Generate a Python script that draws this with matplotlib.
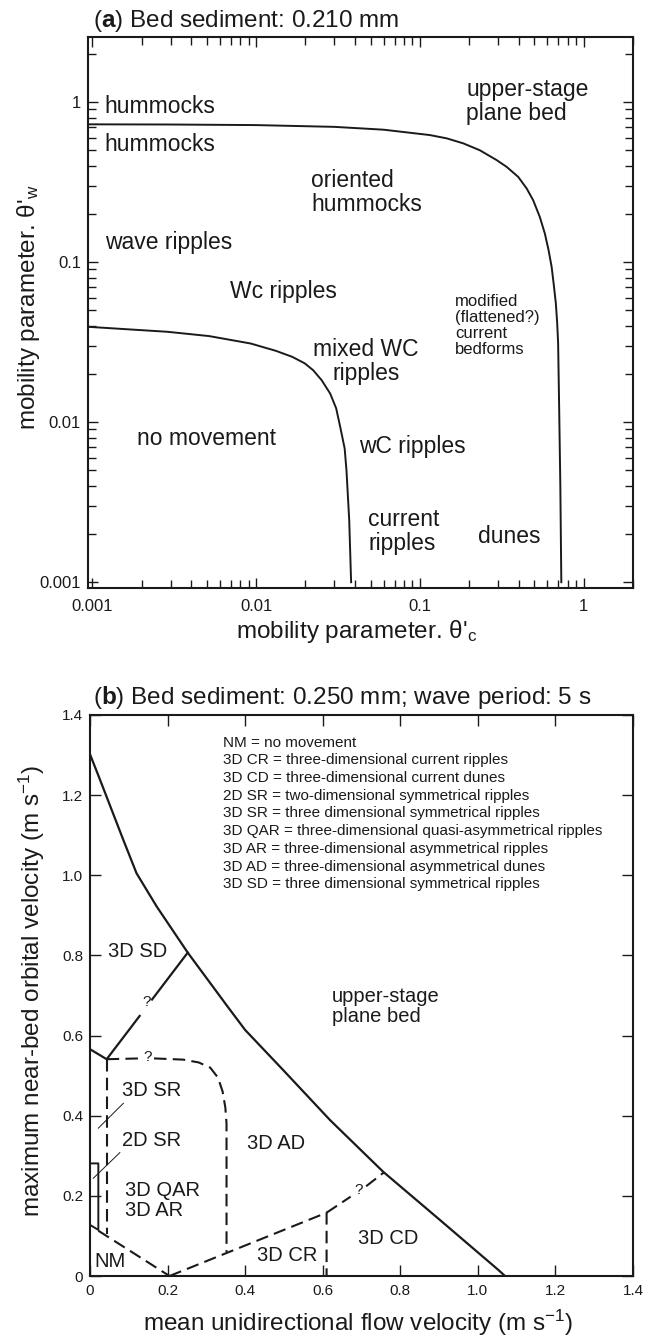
import matplotlib
matplotlib.use("Agg")
import matplotlib.pyplot as plt
from matplotlib.ticker import FixedLocator, FuncFormatter, LogLocator, NullFormatter

# ---- panel (a): log-log bedform diagram, boundaries
theta_c_upper = [0.00095, 0.003, 0.01, 0.03, 0.06, 0.115, 0.146, 0.184, 0.232,
                 0.294, 0.338, 0.398, 0.448, 0.491, 0.539, 0.579, 0.61, 0.637,
                 0.657, 0.676, 0.689, 0.698, 0.708, 0.72, 0.73]
theta_w_upper = [0.726, 0.724, 0.718, 0.70, 0.672, 0.622, 0.593, 0.552, 0.50,
                 0.434, 0.394, 0.341, 0.289, 0.244, 0.192, 0.151, 0.119, 0.0935,
                 0.0718, 0.0552, 0.0414, 0.031, 0.0125, 0.004, 0.001]

theta_c_lower = [0.00095, 0.00287, 0.00516, 0.00926, 0.0132, 0.0166, 0.0198,
                 0.0223, 0.0251, 0.0283, 0.0308, 0.0326, 0.0347, 0.0356, 0.037,
                 0.038]
theta_w_lower = [0.0394, 0.0367, 0.0345, 0.031, 0.0279, 0.0256, 0.0233,
                 0.0211, 0.0183, 0.0151, 0.0122, 0.00934, 0.00685, 0.005,
                 0.00244, 0.001]

ticks_a = [0.001, 0.01, 0.1, 1]

# ---- panel (b): linear velocity diagram
plane_u = [0, 0.026, 0.086, 0.120, 0.172, 0.252, 0.355, 0.40, 0.498, 0.619,
           0.756, 0.902, 1.053, 1.07]
plane_v = [1.302, 1.238, 1.088, 1.005, 0.922, 0.807, 0.672, 0.614, 0.514,
           0.389, 0.260, 0.140, 0.015, 0.0]

sd_low_u = [0, 0.043, 0.128]
sd_low_v = [0.566, 0.541, 0.649]
sd_high_u = [0.160, 0.252]
sd_high_v = [0.690, 0.807]

bracket_u = [0, 0.0215, 0.0215, 0]
bracket_v = [0.281, 0.281, 0.115, 0.1275]

sr_left_u = [0.043, 0.043]
sr_left_v = [0.541, 0.105]
sr_top1_u = [0.043, 0.13]
sr_top1_v = [0.541, 0.543]
sr_top2_u = [0.165, 0.24, 0.28, 0.31, 0.33, 0.342, 0.349, 0.352, 0.352]
sr_top2_v = [0.543, 0.540, 0.533, 0.52, 0.495, 0.46, 0.42, 0.38, 0.06]
nm_u = [0.0215, 0.205]
nm_v = [0.113, 0.0]
cr_u = [0.205, 0.61, 0.61]
cr_v = [0.0, 0.158, 0.0]
cd1_u = [0.61, 0.672]
cd1_v = [0.158, 0.198]
cd2_u = [0.712, 0.757]
cd2_v = [0.224, 0.258]

lead_sr_u = [0.086, 0.0215]
lead_sr_v = [0.431, 0.369]
lead_2d_u = [0.077, 0.0086]
lead_2d_v = [0.308, 0.244]

ticks_b = [0, 0.2, 0.4, 0.6, 0.8, 1.0, 1.2, 1.4]

legend_lines = [
    "NM = no movement",
    "3D CR = three-dimensional current ripples",
    "3D CD = three-dimensional current dunes",
    "2D SR = two-dimensional symmetrical ripples",
    "3D SR = three dimensional symmetrical ripples",
    "3D QAR = three-dimensional quasi-asymmetrical ripples",
    "3D AR = three-dimensional asymmetrical ripples",
    "3D AD = three-dimensional asymmetrical dunes",
    "3D SD = three dimensional symmetrical ripples",
]

plt.rcParams["font.family"] = ["Liberation Sans", "DejaVu Sans"]
plt.rcParams["mathtext.fontset"] = "custom"
plt.rcParams["mathtext.rm"] = "Liberation Sans"
plt.rcParams["mathtext.bf"] = "Liberation Sans:bold"
plt.rcParams["mathtext.it"] = "Liberation Sans:italic"

W, H = 655, 1338
fig = plt.figure(figsize=(W / 100, H / 100), dpi=100)


def fx(px):
    return px / W


def fy(py):
    return 1 - py / H


ink = "#1a1a1a"

# ================= panel (a)
ax1 = fig.add_axes([fx(88), fy(588), (633 - 88) / W, (588 - 37) / H])
ax1.set_xscale("log")
ax1.set_yscale("log")
ax1.set_xlim(0.00094, 2.0)
ax1.set_ylim(0.00092, 2.55)

ax1.plot(theta_c_upper, theta_w_upper, color=ink, lw=1.4, solid_joinstyle="round")
ax1.plot(theta_c_lower, theta_w_lower, color=ink, lw=1.4, solid_joinstyle="round")

fmt = FuncFormatter(lambda v, p: f"{v:g}")
for axis in (ax1.xaxis, ax1.yaxis):
    axis.set_major_locator(FixedLocator(ticks_a))
    axis.set_minor_locator(LogLocator(base=10, subs=range(2, 10), numticks=20))
    axis.set_major_formatter(fmt)
    axis.set_minor_formatter(NullFormatter())
ax1.tick_params(which="both", direction="in", top=True, right=True, width=1, colors=ink)
ax1.tick_params(which="major", length=7, labelsize=12)
ax1.tick_params(which="minor", length=6)
ax1.tick_params(axis="x", pad=8)
ax1.tick_params(axis="y", pad=5)
for s in ax1.spines.values():
    s.set_linewidth(1.5)
    s.set_color(ink)

big = 16.5
ax1.text(0.00118, 0.944, "hummocks", fontsize=big, ha="left", va="center", color=ink)
ax1.text(0.00118, 0.546, "hummocks", fontsize=big, ha="left", va="center", color=ink)
ax1.text(0.192, 1.01, "upper-stage\nplane bed", fontsize=big, ha="left", va="center",
         linespacing=1.05, color=ink)
ax1.text(0.0217, 0.272, "oriented\nhummocks", fontsize=big, ha="left", va="center",
         linespacing=1.05, color=ink)
ax1.text(0.00119, 0.133, "wave ripples", fontsize=big, ha="left", va="center", color=ink)
ax1.text(0.00695, 0.0659, "Wc ripples", fontsize=big, ha="left", va="center", color=ink)
ax1.text(0.164, 0.0401, "modified\n(flattened?)\ncurrent\nbedforms", fontsize=12,
         ha="left", va="center", linespacing=1.1, color=ink)
ax1.text(0.0469, 0.0239, "mixed WC\nripples", fontsize=big, ha="center", va="center",
         multialignment="center", linespacing=1.05, color=ink)
ax1.text(0.00188, 0.00794, "no movement", fontsize=big, ha="left", va="center", color=ink)
ax1.text(0.0426, 0.00708, "wC ripples", fontsize=big, ha="left", va="center", color=ink)
ax1.text(0.0483, 0.00207, "current\nripples", fontsize=big, ha="left", va="center",
         linespacing=1.05, color=ink)
ax1.text(0.227, 0.00194, "dunes", fontsize=big, ha="left", va="center", color=ink)

fig.text(fx(93), fy(27), r"($\mathbf{a}$) Bed sediment: 0.210 mm", fontsize=17.5,
         ha="left", va="baseline", color=ink)
fig.text(fx(357), fy(638), r"mobility parameter. θ'$_\mathregular{c}$", fontsize=17.5,
         ha="center", va="baseline", color=ink)
fig.text(fx(29), fy(307), r"mobility parameter. θ'$_\mathregular{w}$", fontsize=17.5,
         ha="center", va="center", rotation=90, color=ink)

# ================= panel (b)
ax2 = fig.add_axes([fx(90), fy(1276), 543 / W, 561 / H])
ax2.set_xlim(0, 1.4)
ax2.set_ylim(0, 1.4)

solid = dict(color=ink, lw=1.6, solid_joinstyle="round")
dash = dict(color=ink, lw=1.5, linestyle=(0, (6, 3)))
ax2.plot(plane_u, plane_v, **solid)
ax2.plot(sd_low_u, sd_low_v, **solid)
ax2.plot(sd_high_u, sd_high_v, **solid)
ax2.plot(bracket_u, bracket_v, color=ink, lw=1.4)
for u, v in [(sr_left_u, sr_left_v), (sr_top1_u, sr_top1_v), (sr_top2_u, sr_top2_v),
             (nm_u, nm_v), (cr_u, cr_v), (cd1_u, cd1_v), (cd2_u, cd2_v)]:
    ax2.plot(u, v, **dash)
ax2.plot(lead_sr_u, lead_sr_v, color=ink, lw=0.7)
ax2.plot(lead_2d_u, lead_2d_v, color=ink, lw=0.7)

fmt_b = FuncFormatter(lambda v, p: "0" if v == 0 else f"{v:.1f}")
for axis in (ax2.xaxis, ax2.yaxis):
    axis.set_major_locator(FixedLocator(ticks_b))
    axis.set_major_formatter(fmt_b)
ax2.tick_params(direction="in", top=True, right=True, length=8, width=1,
                labelsize=11, colors=ink)
ax2.tick_params(axis="x", pad=6)
ax2.tick_params(axis="y", pad=5)
for s in ax2.spines.values():
    s.set_linewidth(1.5)
    s.set_color(ink)

mid = 14.5
ax2.text(0.047, 0.809, "3D SD", fontsize=mid, ha="left", va="center", color=ink)
ax2.text(0.623, 0.672, "upper-stage\nplane bed", fontsize=mid, ha="left", va="center",
         linespacing=1.05, color=ink)
ax2.text(0.082, 0.464, "3D SR", fontsize=mid, ha="left", va="center", color=ink)
ax2.text(0.082, 0.339, "2D SR", fontsize=mid, ha="left", va="center", color=ink)
ax2.text(0.090, 0.188, "3D QAR\n3D AR", fontsize=mid, ha="left", va="center",
         linespacing=1.05, color=ink)
ax2.text(0.0103, 0.036, "NM", fontsize=mid, ha="left", va="center", color=ink)
ax2.text(0.406, 0.331, "3D AD", fontsize=mid, ha="left", va="center", color=ink)
ax2.text(0.692, 0.094, "3D CD", fontsize=mid, ha="left", va="center", color=ink)
ax2.text(0.431, 0.052, "3D CR", fontsize=mid, ha="left", va="center", color=ink)
for qx, qy in [(0.145, 0.685), (0.148, 0.546), (0.692, 0.215)]:
    ax2.text(qx, qy, "?", fontsize=11, ha="center", va="center", color=ink)

for i, line in enumerate(legend_lines):
    ax2.text(0.344, 1.331 - 0.0442 * i, line, fontsize=11, ha="left", va="center",
             color=ink)

fig.text(fx(93), fy(704), r"($\mathbf{b}$) Bed sediment: 0.250 mm; wave period: 5 s",
         fontsize=17.5, ha="left", va="baseline", color=ink)
fig.text(fx(358), fy(1331), r"mean unidirectional flow velocity (m s$^\mathregular{-1}$)",
         fontsize=17.5, ha="center", va="baseline", color=ink)
fig.text(fx(32), fy(991), r"maximum near-bed orbital velocity (m s$^\mathregular{-1}$)",
         fontsize=17.5, ha="center", va="center", rotation=90, color=ink)

fig.savefig("out.png", dpi=100)
